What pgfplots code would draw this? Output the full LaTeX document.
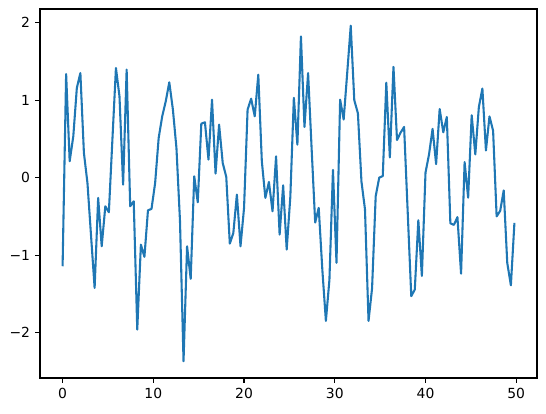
\documentclass[border=0pt]{standalone}
\usepackage{fontspec}
\setmainfont{DejaVu Sans}
\usepackage{pgfplots}
\pgfplotsset{compat=1.18}
\usepackage{pgfplotstable}
\definecolor{mplblue}{HTML}{1F77B4}
\pgfplotstableread{
x y
0 -1.144
0.39 1.338
0.78 0.211
1.18 0.533
1.57 1.157
1.96 1.35
2.35 0.318
2.74 -0.069
3.14 -0.757
3.53 -1.424
3.92 -0.262
4.31 -0.886
4.71 -0.37
5.10 -0.447
5.49 0.49
5.88 1.415
6.27 1.05
6.67 -0.09
7.06 1.394
7.45 -0.37
7.84 -0.305
8.23 -1.961
8.63 -0.865
9.02 -1.023
9.41 -0.422
9.80 -0.404
10.20 -0.069
10.59 0.512
10.98 0.791
11.37 0.985
11.76 1.23
12.16 0.877
12.55 0.38
12.94 -0.56
13.33 -2.37
13.72 -0.886
14.12 -1.307
14.51 0.017
14.90 -0.318
15.29 0.697
15.69 0.714
16.08 0.232
16.47 1.006
16.86 0.052
17.25 0.684
17.65 0.189
18.04 0.009
18.43 -0.852
18.82 -0.714
19.21 -0.219
19.61 -0.886
20.00 -0.391
20.39 0.877
20.78 1.019
21.18 0.791
21.57 1.329
21.96 0.211
22.35 -0.262
22.74 -0.056
23.14 -0.434
23.53 0.275
23.92 -0.735
24.31 -0.099
24.70 -0.929
25.10 -0.25
25.49 1.03
25.88 0.426
26.27 1.823
26.66 0.654
27.06 1.35
27.45 0.37
27.84 -0.58
28.23 -0.39
28.63 -1.19
29.02 -1.85
29.41 -1.32
29.80 0.10
30.19 -1.10
30.59 1.006
30.98 0.75
31.37 1.35
31.76 1.96
32.15 1.0
32.55 0.83
32.94 -0.05
33.33 -0.41
33.72 -1.85
34.11 -1.43
34.51 -0.24
34.90 0.0
35.29 0.02
35.68 1.225
36.07 0.26
36.47 1.43
36.86 0.485
37.25 0.58
37.64 0.654
38.04 -0.45
38.43 -1.53
38.82 -1.445
39.21 -0.55
39.60 -1.27
40.00 0.065
40.39 0.30
40.78 0.63
41.17 0.175
41.56 0.886
41.96 0.585
42.35 0.783
42.74 -0.59
43.13 -0.61
43.52 -0.51
43.92 -1.24
44.31 0.2
44.70 -0.26
45.09 0.805
45.49 0.30
45.88 0.91
46.27 1.15
46.66 0.35
47.05 0.79
47.45 0.605
47.84 -0.50
48.23 -0.43
48.62 -0.165
49.01 -1.10
49.41 -1.39
49.80 -0.585
}\datatable
\begin{document}
\begin{tikzpicture}
\begin{axis}[
  scale only axis,
  width=497pt, height=369pt,
  xmin=-2.49, xmax=52.29,
  ymin=-2.5865, ymax=2.1765,
  xtick={0,10,20,30,40,50},
  xticklabels={0,10,20,30,40,50},
  ytick={-2,-1,0,1,2},
  yticklabels={−2,−1,0,1,2},
  xtick pos=bottom,
  ytick pos=left,
  tick align=outside,
  major tick length=4.86pt,
  tick style={line width=1.11pt, black},
  axis line style={line width=1.11pt},
  every tick label/.append style={font=\fontsize{13.9}{16}\selectfont},
  xticklabel style={inner sep=0pt, yshift=-4.86pt},
  yticklabel style={inner sep=0pt, xshift=-4.86pt},
  clip=true,
]
\addplot[mplblue, line width=2.08pt, line join=round] table[x=x,y=y]{\datatable};
\end{axis}
\path[use as bounding box] ([xshift=-40pt,yshift=-35pt]current axis.south west) rectangle ([xshift=9pt,yshift=9pt]current axis.north east);
\end{tikzpicture}
\end{document}
